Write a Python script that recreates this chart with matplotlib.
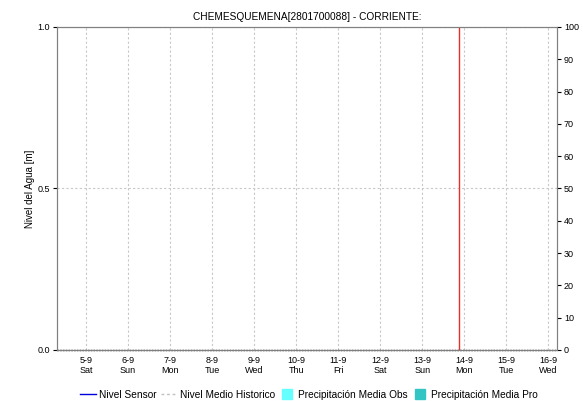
import matplotlib.pyplot as plt
import matplotlib.dates as mdates
from matplotlib.lines import Line2D
import numpy as np
from datetime import datetime

plt.rcParams['font.family'] = ['Liberation Sans', 'DejaVu Sans']

# data
title = 'CHEMESQUEMENA[2801700088] - CORRIENTE:'
x_start = datetime(2020, 9, 4, 7, 30)
x_end = datetime(2020, 9, 16, 5, 0)
tick_days = [datetime(2020, 9, d) for d in range(5, 17)]
now_time = datetime(2020, 9, 13, 21, 0)
sensor_times = []
sensor_level = []
hist_times = [x_start, x_end]
hist_level = [0.0, 0.0]

fig = plt.figure(figsize=(5.83, 4.01), dpi=100)
ax = fig.add_axes([0.0978, 0.1272, 0.8576, 0.8055])
ax2 = ax.twinx()

ax.plot(sensor_times, sensor_level, color='#0000dd', lw=1)
ax.plot(hist_times, hist_level, color='black', lw=1, ls=(0, (1, 1)), clip_on=False, zorder=5)
ax.axvline(now_time, color='#e8302a', lw=1.0)

ax.set_xlim(x_start, x_end)
ax.set_ylim(0, 1)
ax.set_yticks([0.0, 0.5, 1.0])
ax.set_yticklabels(['0.0', '0.5', '1.0'])
ax2.set_ylim(0, 100)
ax2.set_yticks(np.arange(0, 101, 10))

ax.set_xticks(tick_days)
ax.xaxis.set_major_formatter(mdates.DateFormatter('%-d-%-m\n%a'))
ax.grid(True, color='#c8c8c8', ls=(0, (2, 2)), lw=0.8)

for a in (ax, ax2):
    for s in a.spines.values():
        s.set_color('#808080')
    a.tick_params(labelsize=6.5, length=3, width=0.8, color='black', pad=2)
ax.tick_params(axis='x', length=0, pad=4)

ax.set_ylabel('Nivel del Agua [m]', fontsize=7, labelpad=2)
ax.set_title(title, fontsize=7.3, pad=5)

handles = [
    Line2D([], [], color='#0000dd', lw=1),
    Line2D([], [], color='#c0c0c0', lw=1, ls=(0, (2, 2))),
    Line2D([], [], marker='s', ls='', markersize=6.5, color='#66ffff'),
    Line2D([], [], marker='s', ls='', markersize=6.5, color='#33c4c4'),
]
labels = ['Nivel Sensor', 'Nivel Medio Historico', 'Precipitación Media Obs', 'Precipitación Media Pro']
fig.legend(handles, labels, loc='lower center', ncol=4, frameon=False, fontsize=7.3,
           bbox_to_anchor=(0.53, -0.012), handlelength=1.5, handletextpad=0.3,
           columnspacing=0.5, borderpad=0.1)

fig.savefig('out.png', dpi=100)
